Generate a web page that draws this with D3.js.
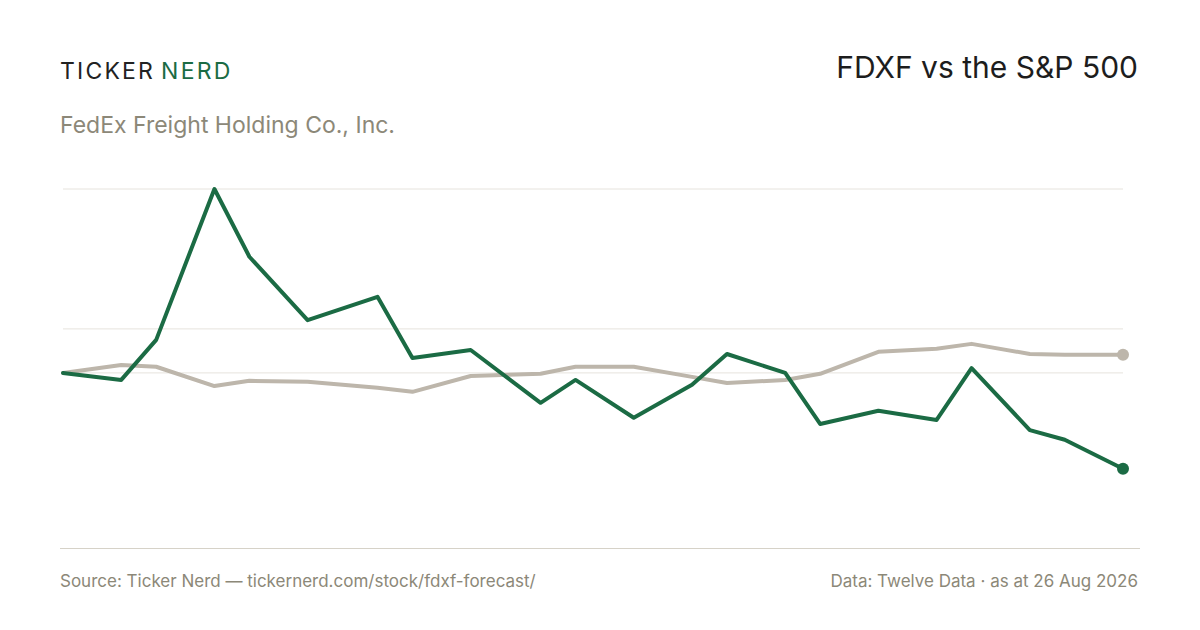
<!DOCTYPE html>
<html><head><meta charset="utf-8">
<script src="https://cdn.jsdelivr.net/npm/d3@7"></script>
<style>body{margin:0;background:#fff}svg{font-family:Inter,"Noto Sans",sans-serif}</style>
</head><body>
<svg id="chart" width="1200" height="630"></svg>
<script>
// time offsets (weeks from start) and % return since start
var weeks = [0,5,8,13,16,21,27,30,35,41,44,49,54,57,62,65,70,75,78,83,86,91];
var fdxf = [0,-1.6,7.5,41.8,26.4,12.0,17.3,3.4,5.2,-6.8,-1.6,-10.2,-2.7,4.3,0,-11.6,-8.6,-10.7,1.1,-13.0,-15.2,-21.8];
var spx = [0,1.8,1.4,-3.0,-1.8,-2.0,-3.4,-4.3,-0.7,-0.2,1.4,1.4,-0.9,-2.3,-1.6,-0.2,4.8,5.5,6.6,4.3,4.1,4.1];
var gridVals = [0,10,41.8];

var svg = d3.select("#chart");
var green = "#1b6b44", grey = "#bdb6ab";

var x = d3.scaleLinear().domain([0,91]).range([63,1123]);
var y = d3.scaleLinear().domain([-39.8,41.8]).range([548,189]);

//header
svg.append("text").attr("x",60).attr("y",79).attr("font-size",23).attr("letter-spacing",2.2)
   .attr("fill","#222").text("TICKER")
   .append("tspan").attr("dx",6).attr("fill",green).text("NERD");
svg.append("text").attr("x",1138).attr("y",78).attr("text-anchor","end")
   .attr("font-size",30).attr("fill","#1d1d1d").text("FDXF vs the S&P 500");
svg.append("text").attr("x",60).attr("y",133).attr("font-size",23)
   .attr("fill","#8c8878").text("FedEx Freight Holding Co., Inc.");

//grid
svg.append("g").selectAll("line").data(gridVals).enter().append("line")
   .attr("x1",63).attr("x2",1123)
   .attr("y1",function(d){return y(d);}).attr("y2",function(d){return y(d);})
   .attr("stroke","#e6e3dd").attr("stroke-width",1);
svg.append("line").attr("x1",60).attr("x2",1140).attr("y1",548.5).attr("y2",548.5)
   .attr("stroke","#d6d2c8");

//lines
function draw(vals,col){
  var line = d3.line().x(function(d,i){return x(weeks[i]);}).y(function(d){return y(d);});
  svg.append("path").datum(vals).attr("d",line).attr("fill","none")
     .attr("stroke",col).attr("stroke-width",4).attr("stroke-linejoin","round").attr("stroke-linecap","round");
  svg.append("circle").attr("cx",x(weeks[weeks.length-1])).attr("cy",y(vals[vals.length-1]))
     .attr("r",6).attr("fill",col);
}
draw(spx,grey);
draw(fdxf,green);

//footer
svg.append("text").attr("x",60).attr("y",587).attr("font-size",17).attr("fill","#8c8878")
   .text("Source: Ticker Nerd \u2014 tickernerd.com/stock/fdxf-forecast/");
svg.append("text").attr("x",1138).attr("y",587).attr("text-anchor","end").attr("font-size",17)
   .attr("fill","#8c8878").text("Data: Twelve Data \u00b7 as at 26 Aug 2026");
</script>
</body></html>
